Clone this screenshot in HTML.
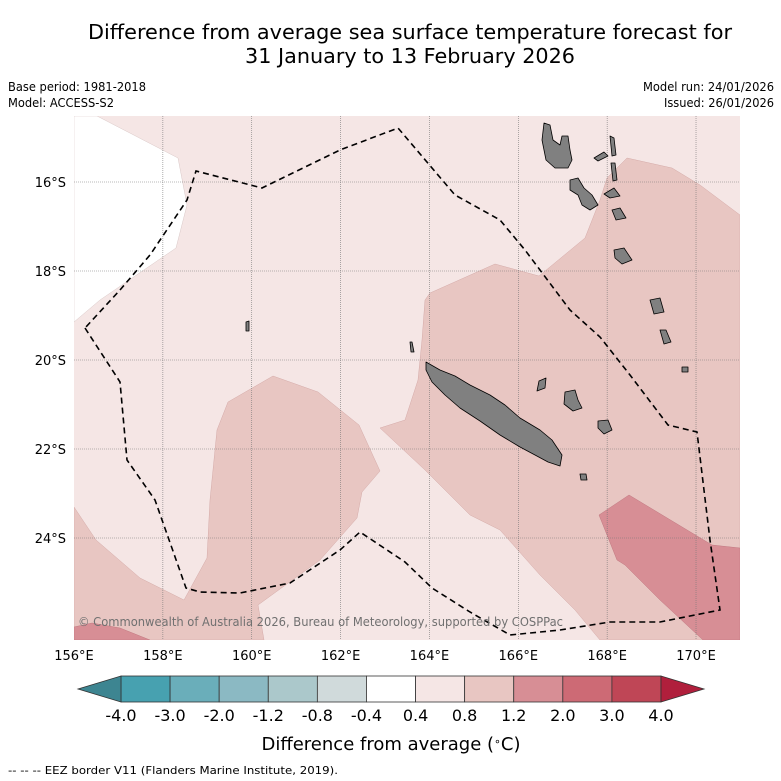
<!DOCTYPE html>
<html><head><meta charset="utf-8">
<style>
body{margin:0;background:#fff;}
svg{display:block;font-family:"DejaVu Sans","Liberation Sans",sans-serif;}
</style></head>
<body>
<svg id="chart" width="781" height="781" viewBox="0 0 781 781">
<text x="410" y="39" text-anchor="middle" font-size="20" textLength="644" lengthAdjust="spacingAndGlyphs" fill="#000">Difference from average sea surface temperature forecast for</text>
<text x="410" y="63" text-anchor="middle" font-size="20" textLength="330" lengthAdjust="spacingAndGlyphs" fill="#000">31 January to 13 February 2026</text>
<text x="8" y="91" font-size="12" textLength="138" lengthAdjust="spacingAndGlyphs">Base period: 1981-2018</text>
<text x="8" y="107" font-size="12" textLength="106" lengthAdjust="spacingAndGlyphs">Model: ACCESS-S2</text>
<text x="774" y="91" font-size="12" text-anchor="end" textLength="131" lengthAdjust="spacingAndGlyphs">Model run: 24/01/2026</text>
<text x="774" y="107" font-size="12" text-anchor="end" textLength="110" lengthAdjust="spacingAndGlyphs">Issued: 26/01/2026</text>
<defs><clipPath id="mapclip"><rect x="74" y="116" width="666" height="524"/></clipPath></defs>
<g id="map" clip-path="url(#mapclip)">
<rect x="74" y="116" width="666" height="524" fill="#f5e6e5"/>
<polygon fill="#ffffff" stroke="#d9c8c7" stroke-width="0.5" points="74,116 97,116 178,158 187,205 176,248 100,300 74,322"/>
<polygon fill="#e8c6c2" stroke="#d4aaa8" stroke-width="0.5" points="430,293 495,264 539,276 585,238 600,200 607,178 627,158 672,168 700,185 740,215 740,640 600,640 575,610 540,575 500,530 470,515 425,470 380,428 405,420 418,380 422,340 425,300"/>
<polygon fill="#e8c6c2" stroke="#d4aaa8" stroke-width="0.5" points="74,507 96,540 140,578 184,600 207,558 210,500 217,430 228,402 273,376 318,392 359,425 380,471 362,492 357,518 320,560 258,605 264,640 74,640"/>
<polygon fill="#d78e95" stroke="#c07880" stroke-width="0.5" points="599,515 629,495 712,545 740,548 740,640 703,640 660,600 625,565 617,560"/>
<polygon fill="#d78e95" stroke="#c07880" stroke-width="0.5" points="74,627 92,623 120,628 150,640 74,640"/>
<g id="grid"></g>
<g fill="#808080" stroke="#000" stroke-width="0.8" stroke-linejoin="round">
<path d="M426,362 L440,370 L455,376 L470,385 L490,395 L505,405 L520,418 L540,430 L552,440 L562,455 L560,466 L548,462 L535,455 L520,447 L500,435 L480,421 L460,408 L445,395 L432,382 L426,370 Z"/>
<path d="M565,392 L575,390 L578,400 L582,408 L573,411 L564,404 Z M598,421 L608,420 L612,430 L604,434 L598,428 Z M539,381 L546,378 L545,388 L537,391 Z M580,474 L586,474 L587,480 L581,480 Z"/>
<path d="M544,123 L550,125 L553,140 L560,145 L562,136 L568,136 L570,150 L572,160 L568,168 L555,168 L546,160 L542,140 Z"/>
<path d="M570,180 L578,178 L584,188 L592,195 L598,205 L590,210 L582,205 L578,195 L570,190 Z M594,158 L604,152 L608,156 L598,161 Z M610,136 L614,138 L616,155 L612,156 Z M611,163 L615,163 L617,180 L613,181 Z M604,194 L614,188 L620,196 L610,198 Z M612,210 L620,208 L626,218 L616,220 Z M614,250 L624,248 L632,260 L622,264 L615,258 Z M650,300 L660,298 L664,312 L654,314 Z M660,330 L666,330 L671,342 L664,344 Z M682,367 L688,367 L688,372 L682,372 Z"/>
<path d="M246,322 L249,321 L249,331 L246,331 Z M410,342 L412,342 L414,352 L411,352 Z"/>
</g>
<path fill="none" stroke="#000" stroke-width="1.6" stroke-dasharray="6,4" d="M85,328 L120,382 L127,460 L155,500 L186,588 L200,592 L240,593 L290,583 L340,550 L360,532 L405,562 L432,588 L470,612 L510,635 L560,630 L610,622 L660,622 L720,610 L710,540 L697,432 L668,425 L630,375 L600,337 L570,310 L525,250 L500,220 L455,195 L398,128 L340,150 L262,188 L196,171 L187,200 L150,255 L120,290 Z"/>
<text x="78" y="626" font-size="12" textLength="485" lengthAdjust="spacingAndGlyphs" fill="#707070">© Commonwealth of Australia 2026, Bureau of Meteorology, supported by COSPPac</text>
</g>
<g id="axes"></g>
<g id="colorbar"></g>
<text x="391" y="750" text-anchor="middle" font-size="18">Difference from average (<tspan dy="-5" font-size="11">∘</tspan><tspan dy="5">C)</tspan></text>
<text x="8" y="774" font-size="11" textLength="330" lengthAdjust="spacingAndGlyphs">--  --  -- EEZ border V11 (Flanders Marine Institute, 2019).</text>
</svg>
<script>
const lonTicks = [156,158,160,162,164,166,168,170];
const latTicks = [16,18,20,22,24];
const cbLabels = ["-4.0","-3.0","-2.0","-1.2","-0.8","-0.4","0.4","0.8","1.2","2.0","3.0","4.0"];
const cbColors = ["#47a1b0","#6aaeba","#8bb9c3","#abc8cb","#d0dadb","#ffffff","#f5e6e5","#e8c6c2","#d78e95","#cd6a75","#bf4656"];
const cbLowColor = "#3d8591";
const cbHighColor = "#b01f3c";

const NS="http://www.w3.org/2000/svg";
function xLon(l){return 74+(l-156)*44.43;}
function yLat(l){return 182+(l-16)*44.5;}
function mk(t,a,p){const e=document.createElementNS(NS,t);for(const k in a)e.setAttribute(k,a[k]);p.appendChild(e);return e;}
const grid=document.getElementById('grid'), axes=document.getElementById('axes'), cb=document.getElementById('colorbar');
lonTicks.forEach(l=>{
  const x=xLon(l);
  if(l>156){const g=mk('line',{x1:x,y1:116,x2:x,y2:640,stroke:'#777','stroke-width':0.6,'stroke-dasharray':'1,1'},grid);
  
  }
  const t=mk('text',{x:x,y:660,'text-anchor':'middle','font-size':13},axes);t.textContent=l+'°E';
  
  
});
latTicks.forEach(l=>{
  const y=yLat(l);
  const g=mk('line',{x1:74,y1:y,x2:740,y2:y,stroke:'#777','stroke-width':0.6,'stroke-dasharray':'1,1'},grid);
  
  
  const t=mk('text',{x:66,y:y+5,'text-anchor':'end','font-size':13},axes);t.textContent=l+'°S';
  
  
});
const x0=121,x1=661,w=(x1-x0)/cbColors.length,yt=676,yb=702;
cbColors.forEach((c,i)=>{
  const r=mk('rect',{x:x0+i*w,y:yt,width:w,height:yb-yt,fill:c,stroke:'#333','stroke-width':0.8},cb);
  
  
});
const lo=mk('polygon',{points:`${x0},${yt} ${x0},${yb} 78,${(yt+yb)/2}`,fill:cbLowColor,stroke:'#333','stroke-width':0.8},cb);


const hi=mk('polygon',{points:`${x1},${yt} ${x1},${yb} 704,${(yt+yb)/2}`,fill:cbHighColor,stroke:'#333','stroke-width':0.8},cb);


cbLabels.forEach((s,i)=>{
  const t=mk('text',{x:x0+i*w,y:721,'text-anchor':'middle','font-size':16},cb);t.textContent=s;
  
  
});
</script>
</body></html>
